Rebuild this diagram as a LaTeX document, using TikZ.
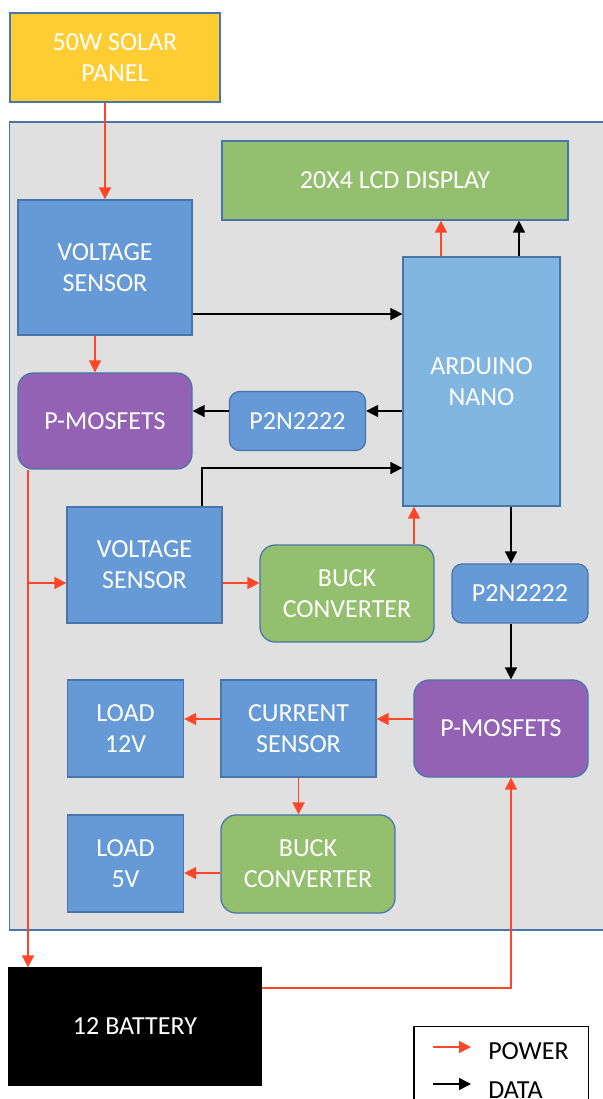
\documentclass[tikz,border=0pt]{standalone}
\usepackage{fontspec}
\setmainfont{Carlito}
\usetikzlibrary{arrows.meta}

\definecolor{edge}{RGB}{72,118,170}
\definecolor{panel}{RGB}{224,224,224}
\definecolor{solar}{RGB}{254,205,52}
\definecolor{sens}{RGB}{102,154,214}
\definecolor{nano}{RGB}{128,182,224}
\definecolor{conv}{RGB}{147,191,110}
\definecolor{fet}{RGB}{148,98,180}
\definecolor{pwrline}{RGB}{255,70,40}

\begin{document}
\begin{tikzpicture}[x=0.025cm, y=-0.025cm,
  box/.style  = {draw=edge, line width=0.9pt, inner sep=0pt, align=center,
                 text=white, font=\fontsize{18.5}{22}\selectfont, fill=#1},
  rbox/.style = {box=#1, rounded corners=0.38cm},
  pwr/.style  = {-{Triangle[length=0.3cm,width=0.3cm]}, draw=pwrline, line width=1.2pt},
  dat/.style  = {-{Triangle[length=0.3cm,width=0.3cm]}, draw=black, line width=1.2pt}
]
  \clip (0,0) rectangle (603,1099);

  % controller board
  \draw[edge, fill=panel, line width=0.9pt] (9.5,122) rectangle (650,930);

  % source
  \node[box=solar, minimum width=5.25cm, minimum height=2.225cm] (pv) at (115,57.5) {50W SOLAR\\PANEL};

  % sensing and control
  \node[box=conv, minimum width=8.65cm, minimum height=1.975cm] (lcd) at (395,180.5) {20X4 LCD DISPLAY};
  \node[box=sens, minimum width=4.35cm, minimum height=3.375cm] (vs1) at (105,267.5) {VOLTAGE\\SENSOR};
  \node[box=nano, minimum width=3.925cm, minimum height=6.225cm] (ard) at (481.5,381.5) {ARDUINO\\NANO};
  \node[rbox=fet, minimum width=4.35cm, minimum height=2.4cm] (pm1) at (105,421) {P-MOSFETS};
  \node[rbox=sens, minimum width=3.4cm, minimum height=1.475cm, rounded corners=0.25cm] (q1) at (297.5,421) {P2N2222};
  \node[box=sens, minimum width=3.875cm, minimum height=2.9cm] (vs2) at (144.5,565) {VOLTAGE\\SENSOR};
  \node[rbox=conv, minimum width=4.35cm, minimum height=2.425cm] (bk1) at (347,593.5) {BUCK\\CONVERTER};
  \node[rbox=sens, minimum width=3.4cm, minimum height=1.475cm, rounded corners=0.25cm] (q2) at (520,593.5) {P2N2222};

  % outputs
  \node[box=sens, minimum width=2.9cm, minimum height=2.425cm] (ld12) at (125.5,728.5) {LOAD\\12V};
  \node[box=sens, minimum width=3.875cm, minimum height=2.425cm] (cs) at (298.5,728.5) {CURRENT\\SENSOR};
  \node[rbox=fet, minimum width=4.35cm, minimum height=2.425cm] (pm2) at (501,728.5) {P-MOSFETS};
  \node[box=sens, minimum width=2.9cm, minimum height=2.425cm] (ld5) at (125.5,863.5) {LOAD\\5V};
  \node[rbox=conv, minimum width=4.35cm, minimum height=2.45cm] (bk2) at (308,864) {BUCK\\CONVERTER};

  % storage
  \node[box=black, draw=black, minimum width=6.3cm, minimum height=2.925cm] (bat) at (135,1026.5) {12 BATTERY};

  % routing points
  \coordinate (bus) at (28,0);
  \coordinate (col) at (511,0);
  \coordinate (lcdp) at (441,0);
  \coordinate (lcdd) at (519,0);
  \coordinate (k0) at (95,0);
  \coordinate (r1) at (0,314);
  \coordinate (r2) at (0,411);
  \coordinate (k1) at (202,468);
  \coordinate (r3) at (0,583);
  \coordinate (k2) at (414,0);
  \coordinate (r4) at (0,719);
  \coordinate (r5) at (0,873);
  \coordinate (r6) at (0,988);

  % power
  \draw[pwr] (pv.south -| vs1.north) -- (vs1.north);
  \draw[pwr] (vs1.south -| k0) -- (pm1.north -| k0);
  \draw[pwr] (pm1.south -| bus) -- (bat.north -| bus);
  \draw[pwr] (bus |- r3) -- (vs2.west |- r3);
  \draw[pwr] (vs2.east |- r3) -- (bk1.west |- r3);
  \draw[pwr] (bk1.north -| k2) -- (ard.south -| k2);
  \draw[pwr] (ard.north -| lcdp) -- (lcd.south -| lcdp);
  \draw[pwr] (bat.east |- r6) -- (col |- r6) -- (pm2.south -| col);
  \draw[pwr] (pm2.west |- r4) -- (cs.east |- r4);
  \draw[pwr] (cs.west |- r4) -- (ld12.east |- r4);
  \draw[pwr] (cs.south) -- (bk2.north -| cs.south);
  \draw[pwr] (bk2.west |- r5) -- (ld5.east |- r5);

  % data
  \draw[dat] (vs1.east |- r1) -- (ard.west |- r1);
  \draw[dat] (ard.west |- r2) -- (q1.east |- r2);
  \draw[dat] (q1.west |- r2) -- (pm1.east |- r2);
  \draw[dat] (vs2.north -| k1) -- (k1) -- (ard.west |- k1);
  \draw[dat] (ard.north -| lcdd) -- (lcd.south -| lcdd);
  \draw[dat] (ard.south -| col) -- (q2.north -| col);
  \draw[dat] (q2.south -| col) -- (pm2.north -| col);

  % legend
  \draw[black, line width=1.1pt] (414,1026.5) rectangle (588.5,1140);
  \coordinate (lp1) at (433,1047);
  \coordinate (lp2) at (471,1047);
  \coordinate (ld1) at (433,1084);
  \coordinate (ld2) at (471,1084);
  \draw[pwr] (lp1) -- (lp2);
  \draw[dat] (ld1) -- (ld2);
  \node[anchor=west, font=\fontsize{18.5}{22}\selectfont, inner sep=0pt] (lpow) at (488,1051) {POWER};
  \node[anchor=west, font=\fontsize{18.5}{22}\selectfont, inner sep=0pt] (ldat) at (488,1090) {DATA};

\end{tikzpicture}
\end{document}
